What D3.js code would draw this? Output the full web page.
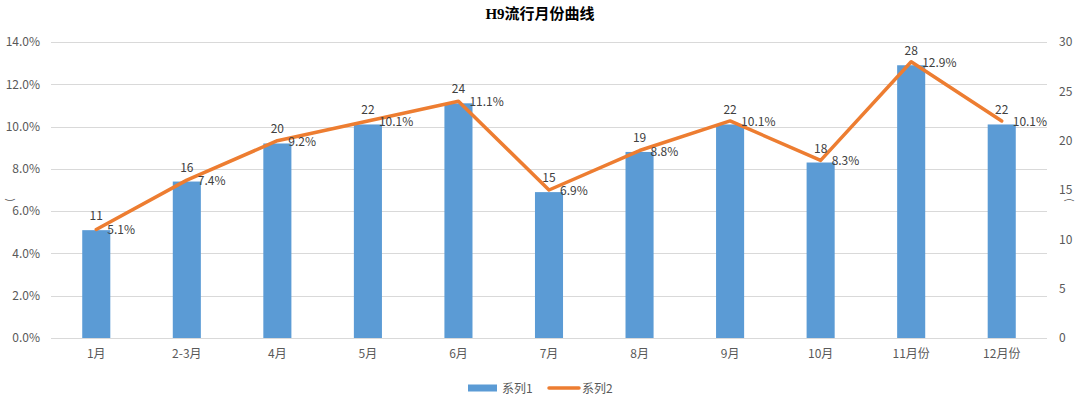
<!DOCTYPE html>
<html>
<head>
<meta charset="utf-8">
<script src="https://cdn.jsdelivr.net/npm/d3@7"></script>
<style>
  body { margin: 0; background: #fff; }
  text { font-family: "Noto Sans CJK SC", "DejaVu Sans", sans-serif; }
</style>
</head>
<body>
<div id="chart"></div>
<script>
// data
var months = ["1月", "2-3月", "4月", "5月", "6月", "7月", "8月", "9月", "10月", "11月份", "12月份"];
var pctValues = [5.1, 7.4, 9.2, 10.1, 11.1, 6.9, 8.8, 10.1, 8.3, 12.9, 10.1];
var countValues = [11, 16, 20, 22, 24, 15, 19, 22, 18, 28, 22];
var leftTicks = [0, 2, 4, 6, 8, 10, 12, 14];
var rightTicks = [0, 5, 10, 15, 20, 25, 30];

var svgWidth = 1080;
var svgHeight = 397;

var margin = { top: 42, right: 33, bottom: 59, left: 51 };
var width = svgWidth - margin.left - margin.right;
var height = svgHeight - margin.top - margin.bottom;

var svg = d3.select("#chart")
  .append("svg")
  .attr("width", svgWidth)
  .attr("height", svgHeight);

var chartGroup = svg.append("g")
  .attr("transform", `translate(${margin.left}, ${margin.top})`);

var rows = months.map(function (m, i) {
  return { month: m, pct: pctValues[i], count: countValues[i] };
});

// scales
var xScale = d3.scaleBand()
  .domain(months)
  .range([0, width])
  .paddingInner(0.69)
  .paddingOuter(0.345);

var xCenter = d3.scaleBand().domain(months).range([0, width]);

var yLeft = d3.scaleLinear().domain([0, 14]).range([height, 0]);
var yRight = d3.scaleLinear().domain([0, 30]).range([height, 0]);

// gridlines
chartGroup.append("g")
  .selectAll("line")
  .data(leftTicks)
  .enter()
  .append("line")
  .attr("x1", 0)
  .attr("x2", width)
  .attr("y1", d => Math.round(yLeft(d)) + 0.5)
  .attr("y2", d => Math.round(yLeft(d)) + 0.5)
  .attr("stroke", "#d9d9d9")
  .attr("stroke-width", 1);

// axes
var leftAxis = d3.axisLeft(yLeft).tickValues(leftTicks)
  .tickFormat(d => d.toFixed(1) + "%").tickSize(0).tickPadding(11);
var rightAxis = d3.axisRight(yRight).tickValues(rightTicks)
  .tickSize(0).tickPadding(12);
var bottomAxis = d3.axisBottom(xCenter).tickSize(0).tickPadding(11);

var gl = chartGroup.append("g").call(leftAxis);
var gr = chartGroup.append("g").attr("transform", `translate(${width}, 0)`).call(rightAxis);
var gb = chartGroup.append("g").attr("transform", `translate(0, ${height})`).call(bottomAxis);

[gl, gr, gb].forEach(function (g) {
  g.select(".domain").remove();
  g.selectAll("text")
    .style("font-size", "12px")
    .style("font-family", "'Noto Sans CJK SC', 'DejaVu Sans', sans-serif")
    .attr("fill", "#595959");
});

// bars
chartGroup.append("g")
  .selectAll("rect")
  .data(rows)
  .enter()
  .append("rect")
  .attr("x", d => xScale(d.month))
  .attr("y", d => yLeft(d.pct))
  .attr("width", xScale.bandwidth())
  .attr("height", d => height - yLeft(d.pct))
  .attr("fill", "#5b9bd5");

// line
var line = d3.line()
  .x(d => xCenter(d.month) + xCenter.bandwidth() / 2)
  .y(d => yRight(d.count));

chartGroup.append("path")
  .datum(rows)
  .attr("d", line)
  .attr("fill", "none")
  .attr("stroke", "#ed7d31")
  .attr("stroke-width", 3.5)
  .attr("stroke-linejoin", "round")
  .attr("stroke-linecap", "round");

// bar labels (counts)
chartGroup.append("g")
  .selectAll("text")
  .data(rows)
  .enter()
  .append("text")
  .attr("x", d => xCenter(d.month) + xCenter.bandwidth() / 2)
  .attr("y", d => yLeft(d.pct) - 10)
  .attr("text-anchor", "middle")
  .style("font-size", "12px")
  .attr("fill", "#404040")
  .text(d => d.count);

// line labels (percent)
chartGroup.append("g")
  .selectAll("text")
  .data(rows)
  .enter()
  .append("text")
  .attr("x", d => xCenter(d.month) + xCenter.bandwidth() / 2 + 11)
  .attr("y", d => yRight(d.count) + 5)
  .style("font-size", "12px")
  .attr("fill", "#404040")
  .text(d => d.pct.toFixed(1) + "%");

// title
svg.append("text")
  .attr("x", svgWidth / 2)
  .attr("y", 19)
  .attr("text-anchor", "middle")
  .style("font-family", "'Liberation Serif', 'Noto Sans CJK SC', serif")
  .style("font-size", "15px")
  .style("font-weight", "bold")
  .attr("fill", "#000")
  .text("H9流行月份曲线");

// small axis title marks at the edges
svg.append("text")
  .attr("transform", "translate(13, 200) rotate(-90)")
  .attr("text-anchor", "middle")
  .style("font-size", "10px")
  .attr("fill", "#595959")
  .text("(");
svg.append("text")
  .attr("transform", "translate(1066, 200) rotate(90)")
  .attr("text-anchor", "middle")
  .style("font-size", "10px")
  .attr("fill", "#595959")
  .text("(");

// legend
var legend = svg.append("g").attr("transform", "translate(468, 388)");
legend.append("rect")
  .attr("x", 0).attr("y", -3.5)
  .attr("width", 29).attr("height", 7)
  .attr("fill", "#5b9bd5");
legend.append("text")
  .attr("x", 34).attr("y", 4.5)
  .style("font-size", "12px")
  .attr("fill", "#595959")
  .text("系列1");
legend.append("line")
  .attr("x1", 81).attr("x2", 111)
  .attr("y1", 0).attr("y2", 0)
  .attr("stroke", "#ed7d31")
  .attr("stroke-width", 3.5)
  .attr("stroke-linecap", "round");
legend.append("text")
  .attr("x", 114).attr("y", 4.5)
  .style("font-size", "12px")
  .attr("fill", "#595959")
  .text("系列2");
</script>
</body>
</html>
